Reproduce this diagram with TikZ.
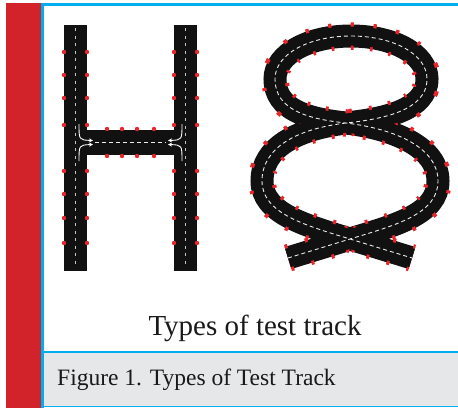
\documentclass[tikz,border=0pt]{standalone}
\usepackage{fontspec}
\setmainfont{Liberation Serif}
\usepackage{tikz}
\usetikzlibrary{arrows.meta,positioning}
\definecolor{barred}{HTML}{D2232A}
\definecolor{frameblue}{HTML}{00AEEF}
\definecolor{capgray}{HTML}{E6E7E8}
\definecolor{conered}{HTML}{E8262C}
\definecolor{asphalt}{HTML}{111111}

\begin{document}
\begin{tikzpicture}[x=1pt, y=-1pt,
    road/.style={draw=asphalt, line width=23pt},
    lane/.style={draw=white!85!gray, line width=0.9pt, dash pattern=on 4pt off 3pt},
    leglane/.style={draw=white!55!gray, line width=1.6pt, dash pattern=on 3pt off 4.5pt},
    cone/.style={fill=conered},
    turn/.style={draw=white, line width=0.9pt, -{Stealth[length=4pt,width=4pt]}},
    conerow/.style={draw=conered, line width=27.5pt, dash pattern=on 3pt off 18pt},
    roadcore/.style={draw=asphalt, line width=19pt},
    textlabel/.style={inner sep=0pt, text=black!90}
]
\useasboundingbox (0,0) rectangle (458,408);

% frame
\fill[barred] (6,3) rectangle (41.5,408);
\fill[capgray] (43,352) rectangle (458,406);
\draw[frameblue, line width=2.5pt] (42.5,408) -- (42.5,4.5) -- (458,4.5);
\draw[frameblue, line width=2.5pt] (42.5,352) -- (458,352);
\draw[frameblue, line width=1.5pt] (42.5,406.5) -- (458,406.5);

% H track
\fill[asphalt] (64,25) rectangle (87,271);
\fill[asphalt] (174,25) rectangle (197,271);
\fill[asphalt] (87,130) rectangle (174,155);
\foreach \x in {75.5,185.5}
    \draw[leglane] (\x,28) -- (\x,268);
\draw[lane] (95,142.5) -- (166,142.5);
\draw[turn] (79,124) .. controls (79,140) .. (93,140.5);
\draw[turn] (79,161) .. controls (79,145) .. (93,144.5);
\draw[turn] (182,124) .. controls (182,140) .. (168,140.5);
\draw[turn] (182,161) .. controls (182,145) .. (168,144.5);
\foreach \y in {52,75,98,125,171,194,218,243}
    \foreach \x in {64,87,174,197}
        \fill[cone] (\x,\y) circle (2.2pt);
\foreach \x in {107,122,137,154} {
    \fill[cone] (\x,129) circle (2.2pt);
    \fill[cone] (\x,156) circle (2.2pt);
}

% figure-eight track
\draw[road, postaction={conerow}, postaction={roadcore}, postaction={lane}]
    (288,258) -- (350,239)
    .. controls (396,225) and (438,214) .. (438,181)
    .. controls (438,148) and (396,129) .. (346,123)
    .. controls (308,119) and (275,110) .. (275,79)
    .. controls (275,54) and (309,36) .. (351,36)
    .. controls (393,36) and (427,54) .. (427,79)
    .. controls (427,110) and (384,119) .. (346,123)
    .. controls (296,129) and (262,148) .. (262,181)
    .. controls (262,213) and (304,225) .. (350,239)
    -- (412,258);

\node[textlabel, anchor=base] (tracktitle) at (255,335) {\fontsize{29}{34}\selectfont Types of test track};
\node[textlabel, anchor=base west] (figcaption) at (57,385) {\fontsize{23.5}{28}\selectfont Figure 1. Types of Test Track};
\end{tikzpicture}
\end{document}
